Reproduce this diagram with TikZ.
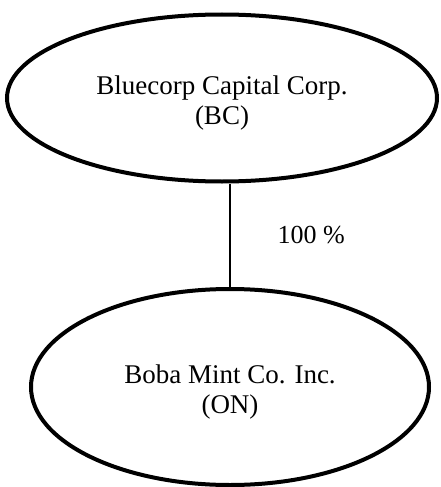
\documentclass[tikz,border=0pt]{standalone}
\usepackage{fontspec}
\setmainfont{Liberation Serif}
\usepackage{tikz}
\usetikzlibrary{shapes,arrows,positioning}

\begin{document}
\begin{tikzpicture}[x=1pt, y=-1pt, node distance=289pt]

\tikzstyle{company} = [ellipse, line width=4pt, draw=black, align=center, text height=58pt, font=\fontsize{27}{30}\selectfont]
\tikzstyle{share} = [line width=1.3pt]

\useasboundingbox (0,0) rectangle (441,487);

\node (bc) [company, minimum width=430pt, minimum height=167pt] at (222,98) {Bluecorp Capital Corp.\\(BC)};
\node (on) [company, minimum width=398pt, minimum height=196pt, below of=bc, xshift=8pt] {Boba Mint Co. Inc.\\(ON)};

\draw [share] (on.north) -- node[anchor=west, inner sep=0pt, xshift=47pt, font=\fontsize{26}{30}\selectfont] {100 \%} (bc.south -| on.north);

\end{tikzpicture}
\end{document}
